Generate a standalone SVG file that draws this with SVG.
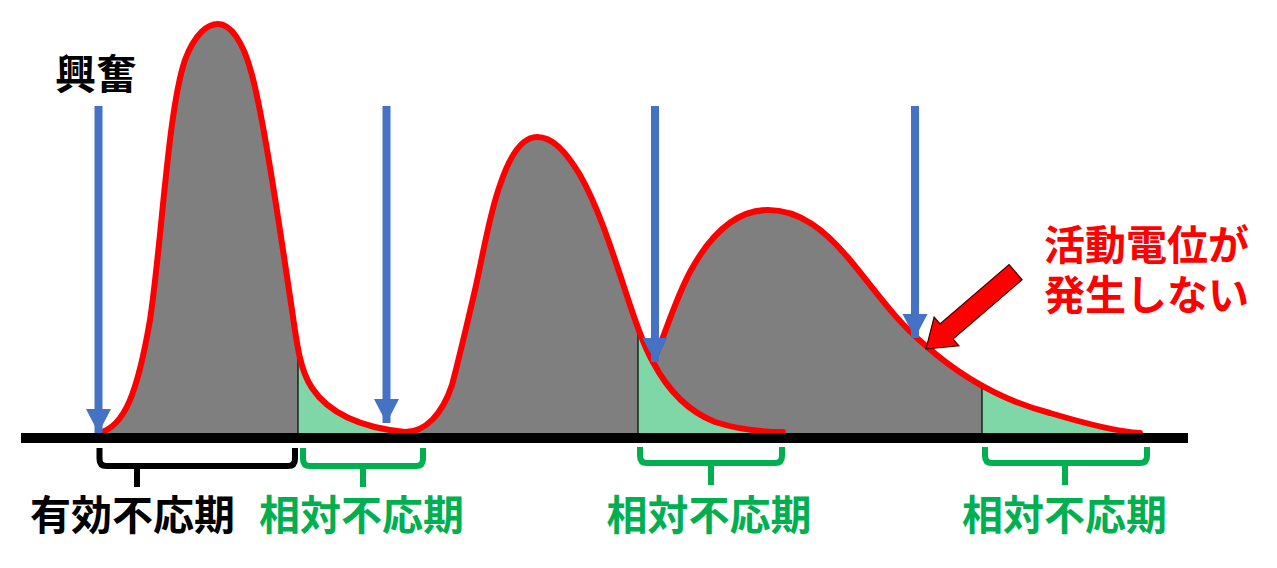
<svg xmlns="http://www.w3.org/2000/svg" width="1277" height="568" viewBox="0 0 1277 568">
<style>
.grey{fill:#7F7F7F}
.green{fill:#7FD7A7}
.sep{stroke:#000;stroke-width:1.2}
.curve{fill:none;stroke:#FF0000;stroke-width:6;stroke-linejoin:round;stroke-linecap:round}
.stim{stroke:#4472C4;stroke-width:8;marker-end:url(#head)}
.brace{fill:none;stroke-width:6;stroke-linejoin:round}
.lbl{font-family:"Noto Sans CJK JP","Noto Sans",sans-serif;font-weight:700;font-size:41px;text-anchor:middle}
</style>
<defs>
<marker id="head" markerUnits="userSpaceOnUse" markerWidth="26" markerHeight="26" refX="24" refY="12.5" orient="auto" viewBox="0 0 26 26">
<path d="M0,0 L24,12.5 L0,25 Z" fill="#4472C4"/>
</marker>
<path id="envArea" d="M98,433 C125,428 138,390 150,320 C162,240 168,110 185,60 C195,33 208,24 218,24 C230,24 243,40 252,75 C264,120 280,230 292,310 C297,345 300,370 312,388 C330,415 365,428 405,432 C425,432 442,415 452,385 C460,355 468,320 475,290 C485,245 490,212 500,185 C510,155 522,137 537,137 C552,137 565,150 580,175 C600,210 615,260 630,305 C640,335 647,352 653,362 C665,335 675,300 690,272 C710,235 735,210 768,210 C800,210 825,230 850,260 C875,290 895,320 925,345 C961,377 1000,400 1050,413 C1090,425 1120,432 1140,433 L1140,437 L98,437 Z"/>
<clipPath id="envClip"><use href="#envArea"/></clipPath>
<clipPath id="tailClip"><path d="M537,137 C552,137 565,150 580,175 C600,210 615,260 630,305 C640,335 647,352 653,362 C665,385 685,410 715,422 C740,430 765,432 783,432 L783,437 L537,437 Z"/></clipPath>
</defs>

<g id="potentials">
<use href="#envArea" class="grey"/>
<g clip-path="url(#envClip)">
<rect class="green" x="298" y="300" width="110" height="137"/>
<rect class="green" x="982" y="300" width="165" height="137"/>
<line class="sep" x1="298" y1="300" x2="298" y2="437"/>
<line class="sep" x1="982" y1="300" x2="982" y2="437"/>
</g>
<g clip-path="url(#tailClip)">
<rect class="green" x="638" y="300" width="150" height="137"/>
<line class="sep" x1="638" y1="300" x2="638" y2="437"/>
</g>
<path class="curve" d="M98,433 C125,428 138,390 150,320 C162,240 168,110 185,60 C195,33 208,24 218,24 C230,24 243,40 252,75 C264,120 280,230 292,310 C297,345 300,370 312,388 C330,415 365,428 405,432 C425,432 442,415 452,385 C460,355 468,320 475,290 C485,245 490,212 500,185 C510,155 522,137 537,137 C552,137 565,150 580,175 C600,210 615,260 630,305 C640,335 647,352 653,362 C665,335 675,300 690,272 C710,235 735,210 768,210 C800,210 825,230 850,260 C875,290 895,320 925,345 C961,377 1000,400 1050,413 C1090,425 1120,432 1140,433"/>
<path class="curve" d="M653,362 C665,385 685,410 715,422 C740,430 765,432 783,432"/>
</g>

<g id="baseline">
<rect x="21" y="433" width="1167" height="10" fill="#000"/>
</g>

<g id="connectors">
<line class="stim" x1="98.5" y1="106" x2="98.5" y2="433"/>
<line class="stim" x1="386.5" y1="106" x2="386.5" y2="423"/>
<line class="stim" x1="655" y1="106" x2="655" y2="362"/>
<line class="stim" x1="915" y1="106" x2="915" y2="338"/>
</g>

<g id="label-excite">
<text class="lbl" x="96" y="89" fill="#000">興奮</text>
</g>

<g id="brace-effective">
<path class="brace" stroke="#000" d="M99.5,448 L99.5,459 Q99.5,466 106.5,466 L288,466 Q295,466 295,459 L295,448 M137,466 L137,487"/>
<text class="lbl" x="132.5" y="530" fill="#000">有効不応期</text>
</g>

<g id="brace-relative-1">
<path class="brace" stroke="#00B050" d="M303,448 L303,459 Q303,466 310,466 L416,466 Q423,466 423,459 L423,448 M363,466 L363,487"/>
<text class="lbl" x="361.5" y="530" fill="#00B050">相対不応期</text>
</g>

<g id="brace-relative-2">
<path class="brace" stroke="#00B050" d="M640,447 L640,456 Q640,463 647,463 L775,463 Q782,463 782,456 L782,447 M711,463 L711,485"/>
<text class="lbl" x="709" y="530" fill="#00B050">相対不応期</text>
</g>

<g id="brace-relative-3">
<path class="brace" stroke="#00B050" d="M985,447 L985,456 Q985,463 992,463 L1140,463 Q1147,463 1147,456 L1147,447 M1065,463 L1065,485"/>
<text class="lbl" x="1064.5" y="530" fill="#00B050">相対不応期</text>
</g>

<g id="no-ap-note">
<polygon points="0,0 -27,-19 -27,-10 -118,-10 -118,10 -27,10 -27,19" fill="#FF0000" stroke="#400000" stroke-width="1.2" stroke-linejoin="miter" transform="translate(926,349) rotate(139.4)"/>
<text class="lbl" x="1146.5" y="260" fill="#FF0000">活動電位が</text>
<text class="lbl" x="1146.5" y="310" fill="#FF0000">発生しない</text>
</g>
</svg>
